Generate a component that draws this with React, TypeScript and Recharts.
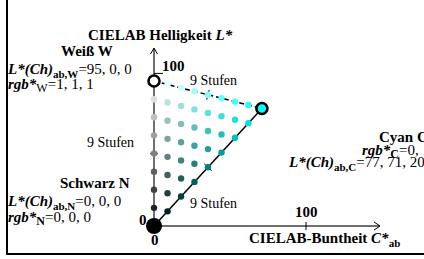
import React from 'react';
import { ScatterChart, Scatter, XAxis, YAxis, ReferenceLine, Cell } from 'recharts';

// C*ab der Spalten (Anteil Cyan 0..8 von 8)
const chroma = [0, 8.9, 17.8, 26.6, 35.5, 44.4, 53.3, 62.1, 71];

// L* je Reihe (Reihe = Anteil Schwarz 0..8)
const lightnessRows = [
  [95, 92.8, 90.5, 88.3, 86, 83.8, 81.5, 79.3, 77],
  [83.1, 80.9, 78.6, 76.4, 74.1, 71.9, 69.6, 67.4],
  [71.3, 69, 66.8, 64.5, 62.3, 60, 57.8],
  [59.4, 57.1, 54.9, 52.6, 50.4, 48.1],
  [47.5, 45.3, 43, 40.8, 38.5],
  [35.6, 33.4, 31.1, 28.9],
  [23.8, 21.5, 19.3],
  [11.9, 9.6],
  [0],
];

const whitePoint = { x: 0, y: 95 };
const cyanPoint = { x: 71, y: 77 };
const blackPoint = { x: 0, y: 0 };

const xTickValue = 100;
const yTickValue = 100;
const axisEnd = { x: 148.7, y: 116.6 };

// pixel per unit
const PX_X = 1.52;
const PX_Y = 1.526;

const W = 424;
const H = 259;

const serif = "'Liberation Serif', 'Times New Roman', Times, serif";

const steps = lightnessRows.length - 1;

const dotColor = (n: number, c: number) => {
  const g = Math.round(((steps - n) / steps) * 255);
  const r = Math.round(((steps - n - c) / steps) * 255);
  return `rgb(${r},${g},${g})`;
};

const gridPoints = lightnessRows
  .flatMap((row, n) => row.map((y, c) => ({ x: chroma[c], y, n, c })))
  .filter((p) => p.n !== steps && !(p.n === 0 && (p.c === 0 || p.c === steps)));

type Pt = { x: number; y: number };

// kleiner Strich in Richtung (ux, uy) in Pixel (y nach unten)
const seg = (p: Pt, ux: number, uy: number, a: number, b: number) => [
  { x: p.x + (ux * a) / PX_X, y: p.y - (uy * a) / PX_Y },
  { x: p.x + (ux * b) / PX_X, y: p.y - (uy * b) / PX_Y },
];

const mid = (p: Pt, q: Pt) => ({ x: (p.x + q.x) / 2, y: (p.y + q.y) / 2 });

const perp = (p: Pt, q: Pt) => {
  const dx = (q.x - p.x) * PX_X;
  const dy = -(q.y - p.y) * PX_Y;
  const l = Math.hypot(dx, dy);
  return [-dy / l, dx / l];
};

const Sub = ({ children }: { children: React.ReactNode }) => (
  <tspan fontSize={11} fontWeight="bold" dy={4}>{children}</tspan>
);

const App: React.FC = () => {
  const wcMid = mid(whitePoint, cyanPoint);
  const [wcx, wcy] = perp(whitePoint, cyanPoint);
  const cnMid = mid(cyanPoint, blackPoint);
  const [cnx, cny] = perp(blackPoint, cyanPoint);
  const wnMid = mid(whitePoint, blackPoint);
  const line = { stroke: '#000', strokeWidth: 1, ifOverflow: 'visible' as const };
  const top = { x: 0, y: axisEnd.y };
  const right = { x: axisEnd.x, y: 0 };

  return (
    <div style={{ position: 'absolute', left: 0, top: 0, width: W, height: H, background: '#fff' }}>
      <ScatterChart width={W} height={H} margin={{ top: 0, right: 0, bottom: 0, left: 0 }}>
        <XAxis type="number" dataKey="x" domain={[-154 / PX_X, (W - 154) / PX_X]} hide allowDataOverflow />
        <YAxis type="number" dataKey="y" domain={[-(H - 226) / PX_Y, 226 / PX_Y]} hide allowDataOverflow />

        {/* Achsen */}
        <ReferenceLine segment={[blackPoint, top]} stroke="#6f6f6f" strokeWidth={2} ifOverflow="visible" />
        <ReferenceLine segment={[blackPoint, right]} stroke="#6f6f6f" strokeWidth={2} ifOverflow="visible" />
        <ReferenceLine segment={[top, { x: -3.5 / PX_X, y: axisEnd.y - 6 / PX_Y }]} {...line} />
        <ReferenceLine segment={[top, { x: 3.5 / PX_X, y: axisEnd.y - 6 / PX_Y }]} {...line} />
        <ReferenceLine segment={[right, { x: axisEnd.x - 6 / PX_X, y: 4 / PX_Y }]} {...line} />
        <ReferenceLine segment={[right, { x: axisEnd.x - 6 / PX_X, y: -4 / PX_Y }]} {...line} />
        <ReferenceLine segment={[{ x: 0, y: yTickValue }, { x: 9 / PX_X, y: yTickValue }]} {...line} />
        <ReferenceLine segment={[{ x: xTickValue, y: -4 / PX_Y }, { x: xTickValue, y: 4 / PX_Y }]} {...line} />

        {/* Kanten */}
        <ReferenceLine segment={[whitePoint, cyanPoint]} stroke="#000" strokeWidth={1.5} strokeDasharray="5 3" ifOverflow="visible" />
        <ReferenceLine segment={[blackPoint, cyanPoint]} stroke="#000" strokeWidth={1.5} ifOverflow="visible" />
        <ReferenceLine segment={seg(wcMid, wcx, wcy, -5, 5)} {...line} />
        <ReferenceLine segment={seg(cnMid, cnx, cny, -5, 5)} {...line} />
        <ReferenceLine segment={seg(wnMid, 1, 0, -4, 4)} stroke="#555" strokeWidth={1.5} ifOverflow="visible" />

        <Scatter data={gridPoints} isAnimationActive={false} shape={(p: any) => <circle cx={p.cx} cy={p.cy} r={3.2} fill={p.fill} />}>
          {gridPoints.map((p, i) => (
            <Cell key={i} fill={dotColor(p.n, p.c)} />
          ))}
        </Scatter>
        <Scatter data={[whitePoint]} isAnimationActive={false} shape={(p: any) => <circle cx={p.cx} cy={p.cy} r={5.5} fill="#fff" stroke="#000" strokeWidth={2.6} />} />
        <Scatter data={[cyanPoint]} isAnimationActive={false} shape={(p: any) => <circle cx={p.cx} cy={p.cy} r={5.5} fill="#00ffff" stroke="#000" strokeWidth={2.6} />} />
        <Scatter data={[blackPoint]} isAnimationActive={false} shape={(p: any) => <circle cx={p.cx} cy={p.cy} r={8} fill="#000" />} />
      </ScatterChart>

      <svg width={W} height={H} style={{ position: 'absolute', left: 0, top: 0, pointerEvents: 'none', fontFamily: serif, fontSize: 15 }}>
        <line x1={7} y1={0} x2={7} y2={254} stroke="#000" strokeWidth={2} />
        <line x1={6} y1={254} x2={W} y2={254} stroke="#000" strokeWidth={2} />

        <text x={88} y={40} fontWeight="bold">
          CIELAB Helligkeit <tspan fontStyle="italic">L*</tspan>
        </text>
        <text x={61} y={56} fontWeight="bold">Weiß W</text>
        <text x={8} y={74}>
          <tspan fontWeight="bold" fontStyle="italic">L*(Ch)</tspan>
          <Sub>ab,W</Sub>
          <tspan dy={-4}>=95, 0, 0</tspan>
        </text>
        <text x={8} y={89}>
          <tspan fontWeight="bold" fontStyle="italic">rgb*</tspan>
          <tspan fontSize={12} dy={3}>W</tspan>
          <tspan dy={-3}>=1, 1, 1</tspan>
        </text>
        <text x={162} y={71} fontWeight="bold">100</text>
        <text x={190} y={85} fontSize={14}>9 Stufen</text>
        <text x={87} y={147} fontSize={14}>9 Stufen</text>
        <text x={60} y={188} fontWeight="bold">Schwarz N</text>
        <text x={8} y={206}>
          <tspan fontWeight="bold" fontStyle="italic">L*(Ch)</tspan>
          <Sub>ab,N</Sub>
          <tspan dy={-4}>=0, 0, 0</tspan>
        </text>
        <text x={8} y={222}>
          <tspan fontWeight="bold" fontStyle="italic">rgb*</tspan>
          <tspan fontSize={12} dy={3} fontWeight="bold">N</tspan>
          <tspan dy={-3}>=0, 0, 0</tspan>
        </text>
        <text x={139} y={225} fontWeight="bold">0</text>
        <text x={151} y={245} fontWeight="bold">0</text>
        <text x={190} y={208} fontSize={14}>9 Stufen</text>
        <text x={295} y={217} fontWeight="bold">100</text>
        <text x={249} y={243} fontWeight="bold">
          CIELAB-Buntheit <tspan fontStyle="italic">C*</tspan>
          <tspan fontSize={11} dy={4}>ab</tspan>
        </text>
        <text x={379} y={142} fontWeight="bold">Cyan C</text>
        <text x={362} y={155}>
          <tspan fontWeight="bold" fontStyle="italic">rgb*</tspan>
          <tspan fontSize={12} dy={3} fontWeight="bold">C</tspan>
          <tspan dy={-3}>=0, 1, 1</tspan>
        </text>
        <text x={289} y={167}>
          <tspan fontWeight="bold" fontStyle="italic">L*(Ch)</tspan>
          <Sub>ab,C</Sub>
          <tspan dy={-4}>=77, 71, 20</tspan>
        </text>
      </svg>
    </div>
  );
};

export default App;
